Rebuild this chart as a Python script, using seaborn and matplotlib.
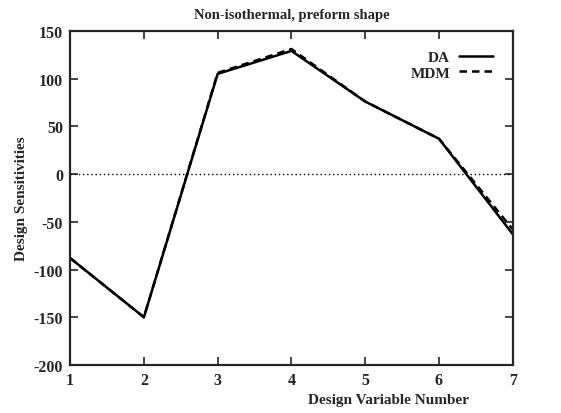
import matplotlib
matplotlib.use('Agg')
import matplotlib.pyplot as plt
import pandas as pd
import seaborn as sns

sns.set_theme(style='ticks')
plt.rcParams['font.family'] = ['Liberation Serif', 'DejaVu Serif']
plt.rcParams['font.weight'] = 'bold'
plt.rcParams['axes.unicode_minus'] = False

design_var = [1, 2, 3, 4, 5, 6, 7]
da = [-88, -150, 105, 129, 76, 37, -63]
mdm = [-88, -150, 106, 131, 76, 37, -58]

data = pd.concat([
    pd.DataFrame({'x': design_var, 'y': da, 'method': 'DA'}),
    pd.DataFrame({'x': design_var, 'y': mdm, 'method': 'MDM'}),
])

fig = plt.figure(figsize=(5.61, 4.14), dpi=100)
ax = fig.add_axes([0.125, 0.116, 0.789, 0.807])

ax.axhline(0, color='black', lw=1, ls=(0, (1, 2)), zorder=1)
sns.lineplot(data=data, x='x', y='y', style='method', color='black',
             dashes={'DA': '', 'MDM': (3, 2)}, linewidth=1.8, ax=ax)

ax.set_xlim(1, 7)
ax.set_ylim(-200, 150)
ax.set_xticks(design_var)
ax.set_yticks(range(-200, 151, 50))
ax.tick_params(direction='in', top=True, right=True, length=6, width=1.2,
               labelsize=11.5, pad=5)
for lbl in ax.get_xticklabels() + ax.get_yticklabels():
    lbl.set_fontweight('bold')
for sp in ax.spines.values():
    sp.set_linewidth(1.6)

ax.set_title('Non-isothermal, preform shape', fontsize=10.5, fontweight='bold', pad=9)
ax.set_ylabel('Design Sensitivities', fontsize=11, fontweight='bold', labelpad=4)
ax.set_xlabel('Design Variable Number', fontsize=11, fontweight='bold')
ax.xaxis.set_label_coords(0.72, -0.083)

leg = ax.legend(loc='upper right', frameon=False, markerfirst=False,
                handlelength=2.2, fontsize=11, borderaxespad=0.9,
                labelspacing=0.1, handletextpad=0.6)
for t in leg.get_texts():
    t.set_fontweight('bold')

fig.savefig('out.png', dpi=100)
